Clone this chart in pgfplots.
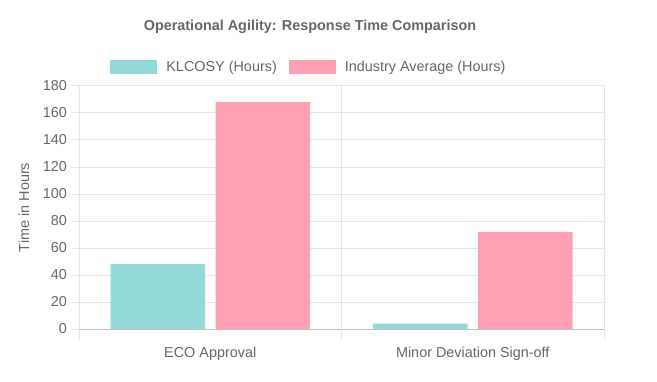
\documentclass[border=0pt]{standalone}
\usepackage{fontspec}
\setmainfont{Liberation Sans}
\usepackage{pgfplots}
\pgfplotsset{compat=1.18}
\definecolor{tealc}{RGB}{147,217,217}
\definecolor{pinkc}{RGB}{255,161,181}
\definecolor{txt}{RGB}{102,102,102}
\definecolor{gridc}{RGB}{229,229,229}
\definecolor{axisc}{RGB}{192,192,192}
\newcommand{\fs}{\fontsize{14.4bp}{17bp}\selectfont}
\begin{document}
\begin{tikzpicture}[x=1bp,y=1bp]
\path[use as bounding box] (0,0) rectangle (657,381);
\node[anchor=base, font=\bfseries\fs, text=txt, inner sep=0pt] at (310,351) {Operational Agility: Response Time Comparison};
\begin{axis}[
  at={(79bp,52bp)}, anchor=south west,
  scale only axis, width=525bp, height=243bp,
  xmin=-0.5, xmax=1.5, ymin=0, ymax=180,
  ybar,
  ytick distance=20,
  /pgf/number format/assume math mode=true,
  xtick={0,1}, xticklabels={ECO Approval, Minor Deviation Sign-off},
  x tick style={draw=none},
  extra x ticks={-0.5,0.5,1.5}, extra x tick labels={},
  extra x tick style={grid=major, major tick length=11bp, tick align=outside, x tick style={draw=gridc, line width=1bp}},
  ymajorgrids,
  grid style={gridc, line width=1bp},
  y tick style={gridc, line width=1bp},
  major tick length=8bp, tick align=outside,
  axis x line*=bottom, axis y line*=left,
  axis line style={axisc, line width=1bp, -},
  ticklabel style={font=\fs, text=txt},
  yticklabel style={anchor=east, inner sep=0pt, xshift=-4bp},
  xticklabel style={anchor=base, inner sep=0pt, yshift=-20bp},
  ylabel={Time in Hours},
  ylabel style={font=\fs, text=txt, at={(axis description cs:-0.1048,0.5)}, anchor=center, rotate=0},
  legend columns=2,
  legend style={at={(axis description cs:0.436,1.078)}, anchor=center, draw=none, fill=none, inner sep=0pt, font=\fs, text=txt, nodes={inner sep=0pt}, /tikz/every even column/.append style={column sep=12bp}, /tikz/every odd column/.append style={column sep=9bp}},
  legend image code/.code={\fill[#1] (0bp,-7bp) rectangle (47bp,7bp);},
]
\addplot[bar width=0.36, bar shift=-0.2, fill=tealc, draw=none] coordinates {(0,48) (1,4)};
\addlegendentry{KLCOSY (Hours)}
\addplot[bar width=0.36, bar shift=0.2, fill=pinkc, draw=none] coordinates {(0,168) (1,72)};
\addlegendentry{Industry Average (Hours)}
\end{axis}
\end{tikzpicture}
\end{document}
